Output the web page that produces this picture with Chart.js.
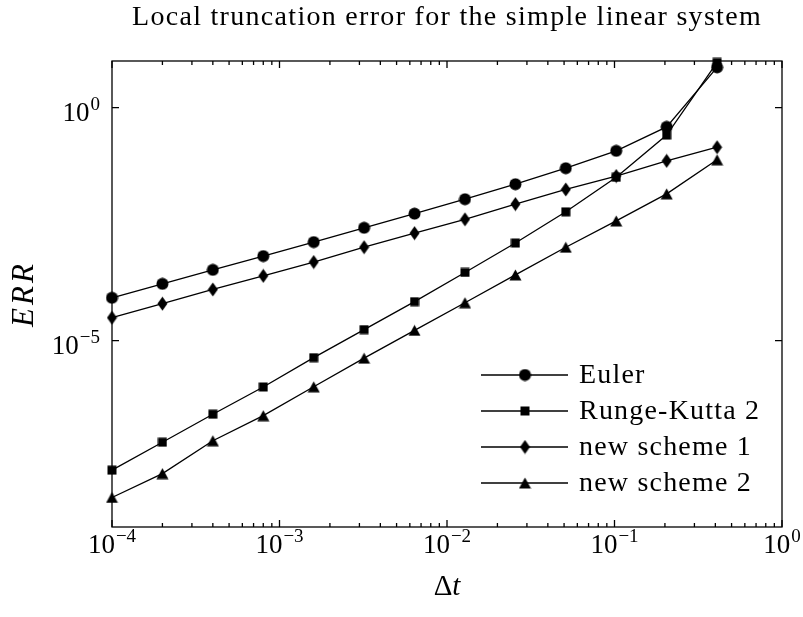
<!DOCTYPE html>
<html>
<head>
<meta charset="utf-8">
<script src="https://cdn.jsdelivr.net/npm/chart.js@4.4.1/dist/chart.umd.min.js"></script>
<style>
  html, body { margin: 0; padding: 0; background: #fff; }
  #wrap { width: 803px; height: 617px; }
</style>
</head>
<body>
<div id="wrap"><canvas id="chart"></canvas></div>
<script>
// step sizes
const dt = [1e-4, 2e-4, 4e-4, 8e-4, 1.6e-3, 3.2e-3, 6.4e-3, 1.28e-2, 2.56e-2, 5.12e-2, 1.024e-1, 2.048e-1, 4.096e-1];

// errors
const euler = [8.3e-5, 1.65e-4, 3.3e-4, 6.5e-4, 1.3e-3, 2.64e-3, 5.3e-3, 1.08e-2, 2.27e-2, 5.0e-2, 0.118, 0.386, 7.3];
const rk2 = [1.66e-8, 6.6e-8, 2.63e-7, 1.01e-6, 4.3e-6, 1.72e-5, 6.85e-5, 2.9e-4, 1.24e-3, 5.8e-3, 3.2e-2, 0.257, 9.3];
const scheme1 = [3.1e-5, 6.2e-5, 1.25e-4, 2.45e-4, 4.85e-4, 1.01e-3, 2.02e-3, 4.0e-3, 8.5e-3, 1.75e-2, 3.4e-2, 7.2e-2, 0.141];
const scheme2 = [4.3e-9, 1.4e-8, 7.1e-8, 2.45e-7, 1.02e-6, 4.2e-6, 1.66e-5, 6.5e-5, 2.57e-4, 1.01e-3, 3.7e-3, 1.41e-2, 7.6e-2];

const seriesNames = ['Euler', 'Runge-Kutta 2', 'new scheme 1', 'new scheme 2'];
const xTickExps = [-4, -3, -2, -1, 0];
const yTickExps = [-5, 0];
const titleText = 'Local truncation error for the simple linear system';

const serif = '"Liberation Serif", "DejaVu Serif", serif';

// marker images
function makeMarker(kind) {
    const c = document.createElement('canvas');
    const g = c.getContext('2d');
    g.fillStyle = '#000';
    if (kind === 'circle') {
        c.width = 13; c.height = 13;
        g.beginPath(); g.arc(6.5, 6.5, 6, 0, Math.PI * 2); g.fill();
    } else if (kind === 'square') {
        c.width = 10; c.height = 10;
        g.fillRect(0.5, 0.5, 9, 9);
    } else if (kind === 'diamond') {
        c.width = 11; c.height = 15;
        g.beginPath(); g.moveTo(5.5, 0.5); g.lineTo(10.5, 7.5); g.lineTo(5.5, 14.5); g.lineTo(0.5, 7.5); g.closePath(); g.fill();
    } else {
        c.width = 13; c.height = 12;
        g.beginPath(); g.moveTo(6.5, 0.5); g.lineTo(12.5, 11.5); g.lineTo(0.5, 11.5); g.closePath(); g.fill();
    }
    return c;
}
const markers = [makeMarker('circle'), makeMarker('square'), makeMarker('diamond'), makeMarker('triangle')];

function toPoints(ys) {
    return dt.map((x, i) => ({ x: x, y: ys[i] }));
}

function powLabel(ctx, exp, x, y, align) {
    const sup = exp < 0 ? '\u2212' + (-exp) : String(exp);
    ctx.font = '27px ' + serif;
    const wb = ctx.measureText('10').width;
    ctx.font = '19px ' + serif;
    const ws = ctx.measureText(sup).width;
    const total = wb + 1 + ws;
    const left = align === 'right' ? x - total : x - total / 2;
    ctx.textAlign = 'left';
    ctx.textBaseline = 'alphabetic';
    ctx.font = '27px ' + serif;
    ctx.fillText('10', left, y);
    ctx.font = '19px ' + serif;
    ctx.fillText(sup, left + wb + 1, y - 11);
}

const frame = {
    id: 'frame',
    beforeDatasetsDraw(chart) {
        const { ctx, chartArea: a, scales } = chart;
        ctx.save();
        ctx.strokeStyle = '#000';
        ctx.lineWidth = 1.3;
        ctx.strokeRect(a.left, a.top, a.right - a.left, a.bottom - a.top);
        ctx.beginPath();
        // x ticks, major and minor, pointing inwards
        for (let e = -4; e <= 0; e++) {
            for (let m = 1; m <= 9; m++) {
                const v = m * Math.pow(10, e);
                if (v > 1) break;
                const px = scales.x.getPixelForValue(v);
                const len = m === 1 ? 7 : 4;
                ctx.moveTo(px, a.bottom); ctx.lineTo(px, a.bottom - len);
                ctx.moveTo(px, a.top); ctx.lineTo(px, a.top + len);
            }
        }
        yTickExps.forEach(e => {
            const py = scales.y.getPixelForValue(Math.pow(10, e));
            ctx.moveTo(a.left, py); ctx.lineTo(a.left + 7, py);
            ctx.moveTo(a.right, py); ctx.lineTo(a.right - 7, py);
        });
        ctx.stroke();
        ctx.restore();
    },
    afterDraw(chart) {
        const { ctx, chartArea: a, scales } = chart;
        ctx.save();
        ctx.fillStyle = '#000';

        xTickExps.forEach(e => {
            powLabel(ctx, e, scales.x.getPixelForValue(Math.pow(10, e)), a.bottom + 26, 'center');
        });
        yTickExps.forEach(e => {
            powLabel(ctx, e, a.left - 12, scales.y.getPixelForValue(Math.pow(10, e)) + 13, 'right');
        });

        // title
        const cx = (a.left + a.right) / 2;
        ctx.font = '28px ' + serif;
        ctx.letterSpacing = '1.3px';
        ctx.textAlign = 'center';
        ctx.textBaseline = 'alphabetic';
        ctx.fillText(titleText, cx, 25);
        ctx.letterSpacing = '0px';

        // x label: upright delta, italic t
        ctx.font = '29px ' + serif;
        const wd = ctx.measureText('\u0394').width;
        ctx.font = 'italic 29px ' + serif;
        const wt = ctx.measureText('t').width;
        ctx.textAlign = 'left';
        ctx.font = '29px ' + serif;
        ctx.fillText('\u0394', cx - (wd + wt) / 2, 595);
        ctx.font = 'italic 29px ' + serif;
        ctx.fillText('t', cx - (wd + wt) / 2 + wd, 595);

        // y label
        ctx.save();
        ctx.translate(33, (a.top + a.bottom) / 2);
        ctx.rotate(-Math.PI / 2);
        ctx.font = 'italic 31px ' + serif;
        ctx.letterSpacing = '3px';
        ctx.textAlign = 'center';
        ctx.fillText('ERR', 0, 0);
        ctx.restore();

        // legend inside the axes, lower right
        const rows = [375, 411, 447, 483];
        ctx.font = '28px ' + serif;
        ctx.letterSpacing = '1.2px';
        ctx.textBaseline = 'middle';
        ctx.textAlign = 'left';
        ctx.lineWidth = 1.3;
        ctx.strokeStyle = '#000';
        seriesNames.forEach((name, i) => {
            const y = rows[i];
            ctx.beginPath();
            ctx.moveTo(481, y); ctx.lineTo(568, y);
            ctx.stroke();
            const m = markers[i];
            ctx.drawImage(m, 525 - m.width / 2, y - m.height / 2);
            ctx.fillText(name, 579, y + 1);
        });
        ctx.restore();
    }
};

const allSeries = [euler, rk2, scheme1, scheme2];

new Chart(document.getElementById('chart'), {
    type: 'line',
    data: {
        datasets: allSeries.map((ys, i) => ({
            label: seriesNames[i],
            data: toPoints(ys),
            borderColor: '#000',
            backgroundColor: '#000',
            borderWidth: 1.3,
            pointStyle: markers[i],
            pointRadius: 6,
            tension: 0,
            clip: false
        }))
    },
    options: {
        responsive: true,
        maintainAspectRatio: false,
        animation: false,
        devicePixelRatio: 1,
        layout: {
            padding: { left: 112, right: 21, top: 61, bottom: 90 }
        },
        scales: {
            x: { type: 'logarithmic', min: 1e-4, max: 1, display: false },
            y: { type: 'logarithmic', min: 1e-9, max: 10, display: false }
        },
        plugins: {
            legend: { display: false },
            title: { display: false },
            tooltip: { enabled: false }
        }
    },
    plugins: [frame]
});
</script>
</body>
</html>
